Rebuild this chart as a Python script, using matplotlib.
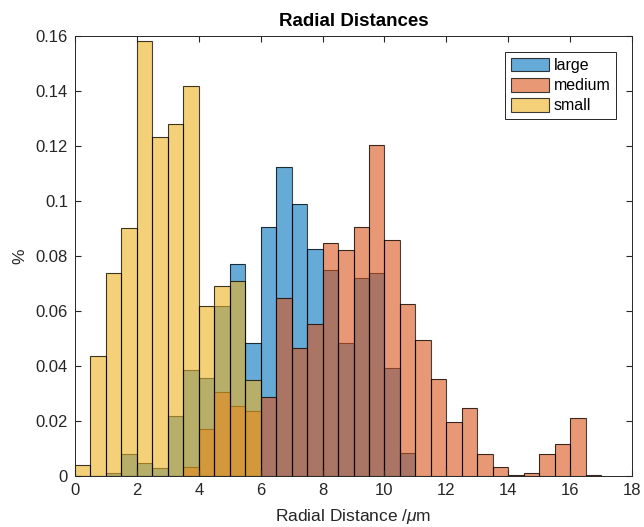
import matplotlib
matplotlib.use("Agg")
import matplotlib.pyplot as plt
from matplotlib.patches import Patch
import numpy as np

plt.rcParams['font.family'] = ['Liberation Sans', 'DejaVu Sans']
plt.rcParams['mathtext.fontset'] = 'custom'
plt.rcParams['mathtext.it'] = 'Liberation Sans:italic'
plt.rcParams['mathtext.rm'] = 'Liberation Sans'

# histogram values (probability), bin width 0.5 starting at 0
bin_width = 0.5
large = [0, 0, 0.0012, 0.0079, 0.0046, 0.003, 0.0218, 0.0385, 0.0355, 0.062,
         0.077, 0.0485, 0.0907, 0.1122, 0.0988, 0.0824, 0.0749, 0.0485, 0.0719,
         0.0737, 0.0392, 0.0085]
medium = [0, 0, 0, 0, 0, 0, 0, 0.0034, 0.017, 0.0307, 0.0256, 0.0236, 0.0288,
          0.0646, 0.0466, 0.0553, 0.0846, 0.0822, 0.0905, 0.1204, 0.0857, 0.0625,
          0.0495, 0.0354, 0.0196, 0.0248, 0.008, 0.0033, 0.0004, 0.0012, 0.0079,
          0.0116, 0.021, 0.0004]
small = [0.004, 0.0436, 0.074, 0.090, 0.158, 0.1234, 0.1279, 0.1418, 0.062,
         0.069, 0.0709, 0.035]
labels = ['large', 'medium', 'small']
colors = [(0, 0.447, 0.741), (0.85, 0.325, 0.098), (0.929, 0.694, 0.125)]

fig = plt.figure(figsize=(6.44, 5.27), dpi=100)
ax = fig.add_axes([75 / 644, 1 - 476 / 527, 557 / 644, 440 / 527])

handles = []
for vals, lab, col in zip([large, medium, small], labels, colors):
    edges = np.arange(len(vals)) * bin_width
    ax.bar(edges, vals, width=bin_width, align='edge', color=col, alpha=0.6,
           edgecolor='none')
    ax.bar(edges, vals, width=bin_width, align='edge', fill=False,
           edgecolor=(0, 0, 0, 0.75), linewidth=0.8)
    handles.append(Patch(facecolor=(*col, 0.6), edgecolor=(0, 0, 0, 0.75),
                         linewidth=0.8, label=lab))

ax.set_xlim(0, 18)
ax.set_ylim(0, 0.16)
ax.set_xticks(np.arange(0, 19, 2))
ax.set_yticks(np.arange(0, 0.161, 0.02))
ax.set_yticklabels(['0', '0.02', '0.04', '0.06', '0.08', '0.1', '0.12', '0.14', '0.16'])
ax.tick_params(direction='in', top=True, right=True, labelsize=12, colors='#262626',
               length=4, pad=5)
for s in ax.spines.values():
    s.set_color('#262626')
    s.set_linewidth(0.7)

ax.set_title('Radial Distances', fontsize=13.5, fontweight='bold', color='black', pad=7)
ax.set_xlabel(r'Radial Distance /$\mu$m', fontsize=12.5, color='#262626', labelpad=6.5)
ax.set_ylabel('%', fontsize=12.5, color='#262626', labelpad=6)

leg = ax.legend(handles=handles, loc='upper right', fontsize=11.5, fancybox=False,
                framealpha=1, edgecolor='#262626', borderaxespad=1.0,
                handlelength=2.4, handleheight=0.95, handletextpad=0.3,
                borderpad=0.35, labelspacing=0.3)
leg.get_frame().set_linewidth(0.7)

fig.savefig('out.png', dpi=100)
